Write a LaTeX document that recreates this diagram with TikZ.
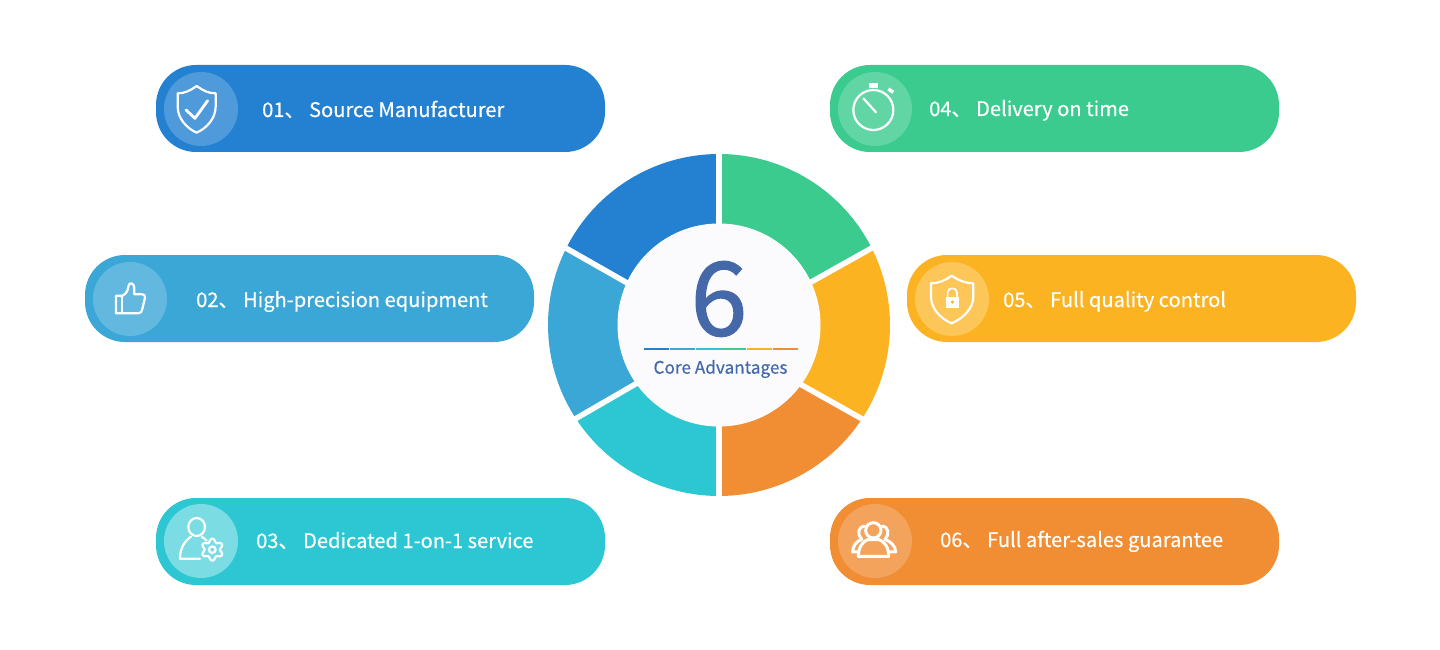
\documentclass[tikz,border=0pt]{standalone}
\usepackage{fontspec}
\setmainfont{Noto Sans CJK SC}[FakeBold=0.35]
\newfontfamily\coresix{Noto Sans CJK SC}[FakeBold=1.4]
\usetikzlibrary{calc}
\definecolor{blueA}{HTML}{2481D1}
\definecolor{blueB}{HTML}{3BA7D6}
\definecolor{tealC}{HTML}{2DC7D4}
\definecolor{greenD}{HTML}{3BCB8E}
\definecolor{yellowE}{HTML}{FCB322}
\definecolor{orangeF}{HTML}{F18D32}
\definecolor{inkblue}{HTML}{4569A8}
\definecolor{coreface}{HTML}{FBFBFE}
\tikzset{
  pillbox/.style={rectangle, rounded corners=40pt, minimum width=449pt, minimum height=87pt, inner sep=0pt},
  iconring/.style={circle, fill=white, fill opacity=.2, minimum size=74pt, inner sep=0pt},
  pilltext/.style={anchor=base west, text=white, inner sep=0pt, font=\fontsize{20.1}{24}\selectfont},
  iconline/.style={draw=white, line width=2.2pt, line join=round, line cap=round},
  cutline/.style={draw=white, line width=5.5pt, shorten <=-8pt, shorten >=-6pt},
  zoomed/.style={x=.3333pt, y=-.3333pt},
}
\begin{document}
\begin{tikzpicture}[x=1pt,y=-1pt]
\useasboundingbox (0,0) rectangle (1440,650);

% pills
\node[pillbox, fill=blueA] (pillA) at (380.5,108.5) {};
\node[pillbox, fill=blueB] (pillB) at (309.5,298.5) {};
\node[pillbox, fill=tealC] (pillC) at (380.5,541.5) {};
\node[pillbox, fill=greenD] (pillD) at (1054.5,108.5) {};
\node[pillbox, fill=yellowE] (pillE) at (1131.5,298.5) {};
\node[pillbox, fill=orangeF] (pillF) at (1054.5,541.5) {};

\node[iconring] (ringA) at (201,109) {};
\node[iconring] (ringB) at (130,299) {};
\node[iconring, fill opacity=.38] (ringC) at (201,541) {};
\node[iconring] (ringD) at (875,109) {};
\node[iconring, fill opacity=.25] (ringE) at (952,299) {};
\node[iconring] (ringF) at (875,541) {};

\node[pilltext] (textA) at (262,117) {01、 Source Manufacturer};
\node[pilltext] (textB) at (196,307) {02、 High-precision equipment};
\node[pilltext] (textC) at (256,548) {03、 Dedicated 1-on-1 service};
\node[pilltext] (textD) at (929,116) {04、 Delivery on time};
\node[pilltext] (textE) at (1003,307) {05、 Full quality control};
\node[pilltext] (textF) at (940,547) {06、 Full after-sales guarantee};

% ring of six sectors, the cuts do not quite meet at the middle
\coordinate (core) at (719,325);
\coordinate (inN) at (719,224);
\coordinate (inNE) at (811.7,281.7);
\coordinate (inSE) at (801.7,385);
\coordinate (inS) at (719,426);
\coordinate (inSW) at (635,384.3);
\coordinate (inNW) at (626,282.3);
\foreach \from/\to/\inA/\inB/\col in {90/26.7/inN/inNE/greenD, 26.7/-33.3/inNE/inSE/yellowE, -33.3/-90/inSE/inS/orangeF, -90/-146.8/inS/inSW/tealC, -146.8/-206.7/inSW/inNW/blueB, -206.7/-270/inNW/inN/blueA}
  \fill[\col] (\inA) -- ($(core)+(\from:171pt)$) arc[start angle=\from, end angle=\to, radius=171pt] -- (\inB) -- (core) -- cycle;
\draw[cutline] (inN) -- (719,154);
\draw[cutline] (inS) -- (719,496);
\draw[cutline] (inNE) -- (870,249);
\draw[cutline] (inSE) -- (861,418.3);
\draw[cutline] (inSW) -- (576.3,418.3);
\draw[cutline] (inNW) -- (567,248.7);
\node[circle, fill=coreface, draw=white, line width=1pt, minimum size=202pt, inner sep=0pt] (coreface) at (core) {};
\node[text=inkblue, inner sep=0pt, font=\coresix\fontsize{102}{102}\selectfont] (six) at (719,299) {6};
\node[text=inkblue, inner sep=0pt, font=\fontsize{17.2}{21}\selectfont] (coretext) at (720.5,369) {Core Advantages};
\foreach \a/\b/\col in {644/669/blueA, 670/695/blueB, 696/721/tealC, 721/746/greenD, 747/772/yellowE, 773/798/orangeF}
  \draw[\col, line width=2pt] (\a,348.7) -- (\b,348.7);

% shield with tick
\begin{scope}[shift={(150,60)}, zoomed]
\draw[iconline] (140,78) .. controls (120,92) and (105,100) .. (83,100) -- (83,140) .. controls (83,175) and (110,205) .. (140,218) .. controls (170,205) and (197,175) .. (197,140) -- (197,100) .. controls (175,100) and (160,92) .. (140,78) -- cycle;
\draw[iconline, line width=2.8pt] (108,150) -- (135,175) -- (173,122);
\end{scope}

% thumb
\begin{scope}[shift={(85,255)}, zoomed]
\draw[iconline] (93,122) -- (93,175) -- (160,175) .. controls (168,175) and (170,170) .. (172,162) -- (180,128) .. controls (181,121) and (177,118) .. (172,118) -- (148,118) -- (148,98) .. controls (148,85) and (132,78) .. (130,95) .. controls (129,108) and (122,118) .. (112,122) -- cycle;
\draw[iconline] (112,122) -- (112,175);
\end{scope}

% person with gear
\begin{scope}[shift={(155,498)}, zoomed]
\draw[iconline] (125,87) circle[x radius=25, y radius=27];
\draw[iconline] (135,182) -- (75,182) .. controls (75,150) and (90,128) .. (108,116);
\draw[iconline] (140,116) .. controls (145,119) and (150,123) .. (155,128);
\draw[iconline, samples=121, domain=0:360] plot ({172+(28-5*cos(6*\x))*cos(\x)}, {155+(28-5*cos(6*\x))*sin(\x)}) -- cycle;
\draw[iconline] (172,155) circle[radius=10];
\end{scope}

% stopwatch
\begin{scope}[shift={(830,60)}, zoomed]
\draw[iconline] (130,150) circle[radius=60];
\draw[iconline] (100,115) -- (138,157);
\draw[white, line width=4.5pt] (118,77) -- (145,77);
\draw[white, line width=3.5pt] (175,87) -- (190,97);
\end{scope}

% shield with lock
\begin{scope}[shift={(905,255)}, zoomed]
\draw[iconline] (140,62) .. controls (122,76) and (100,85) .. (78,85) -- (78,125) .. controls (78,160) and (105,190) .. (140,205) .. controls (175,190) and (205,160) .. (205,125) -- (205,85) .. controls (182,85) and (160,76) .. (140,62) -- cycle;
\fill[white] (122,126) rectangle (162,160);
\draw[white, line width=1.6pt] (128,126) -- (128,112) .. controls (128,96) and (156,96) .. (156,112) -- (156,126);
\fill[yellowE] (142,141) circle[radius=5];
\end{scope}

% three people
\begin{scope}[shift={(830,498)}, zoomed]
\draw[iconline, line width=3pt] (130,97) circle[radius=23];
\draw[iconline, line width=3pt] (85,175) .. controls (85,145) and (100,130) .. (113,125) -- (147,125) .. controls (162,130) and (176,145) .. (176,175) -- cycle;
\draw[iconline, line width=3pt] (103,84) .. controls (85,85) and (80,110) .. (95,124) .. controls (78,130) and (68,145) .. (68,162) -- (85,162);
\draw[iconline, line width=3pt] (157,84) .. controls (175,85) and (180,110) .. (165,124) .. controls (182,130) and (197,145) .. (197,162) -- (176,162);
\end{scope}
\end{tikzpicture}
\end{document}
